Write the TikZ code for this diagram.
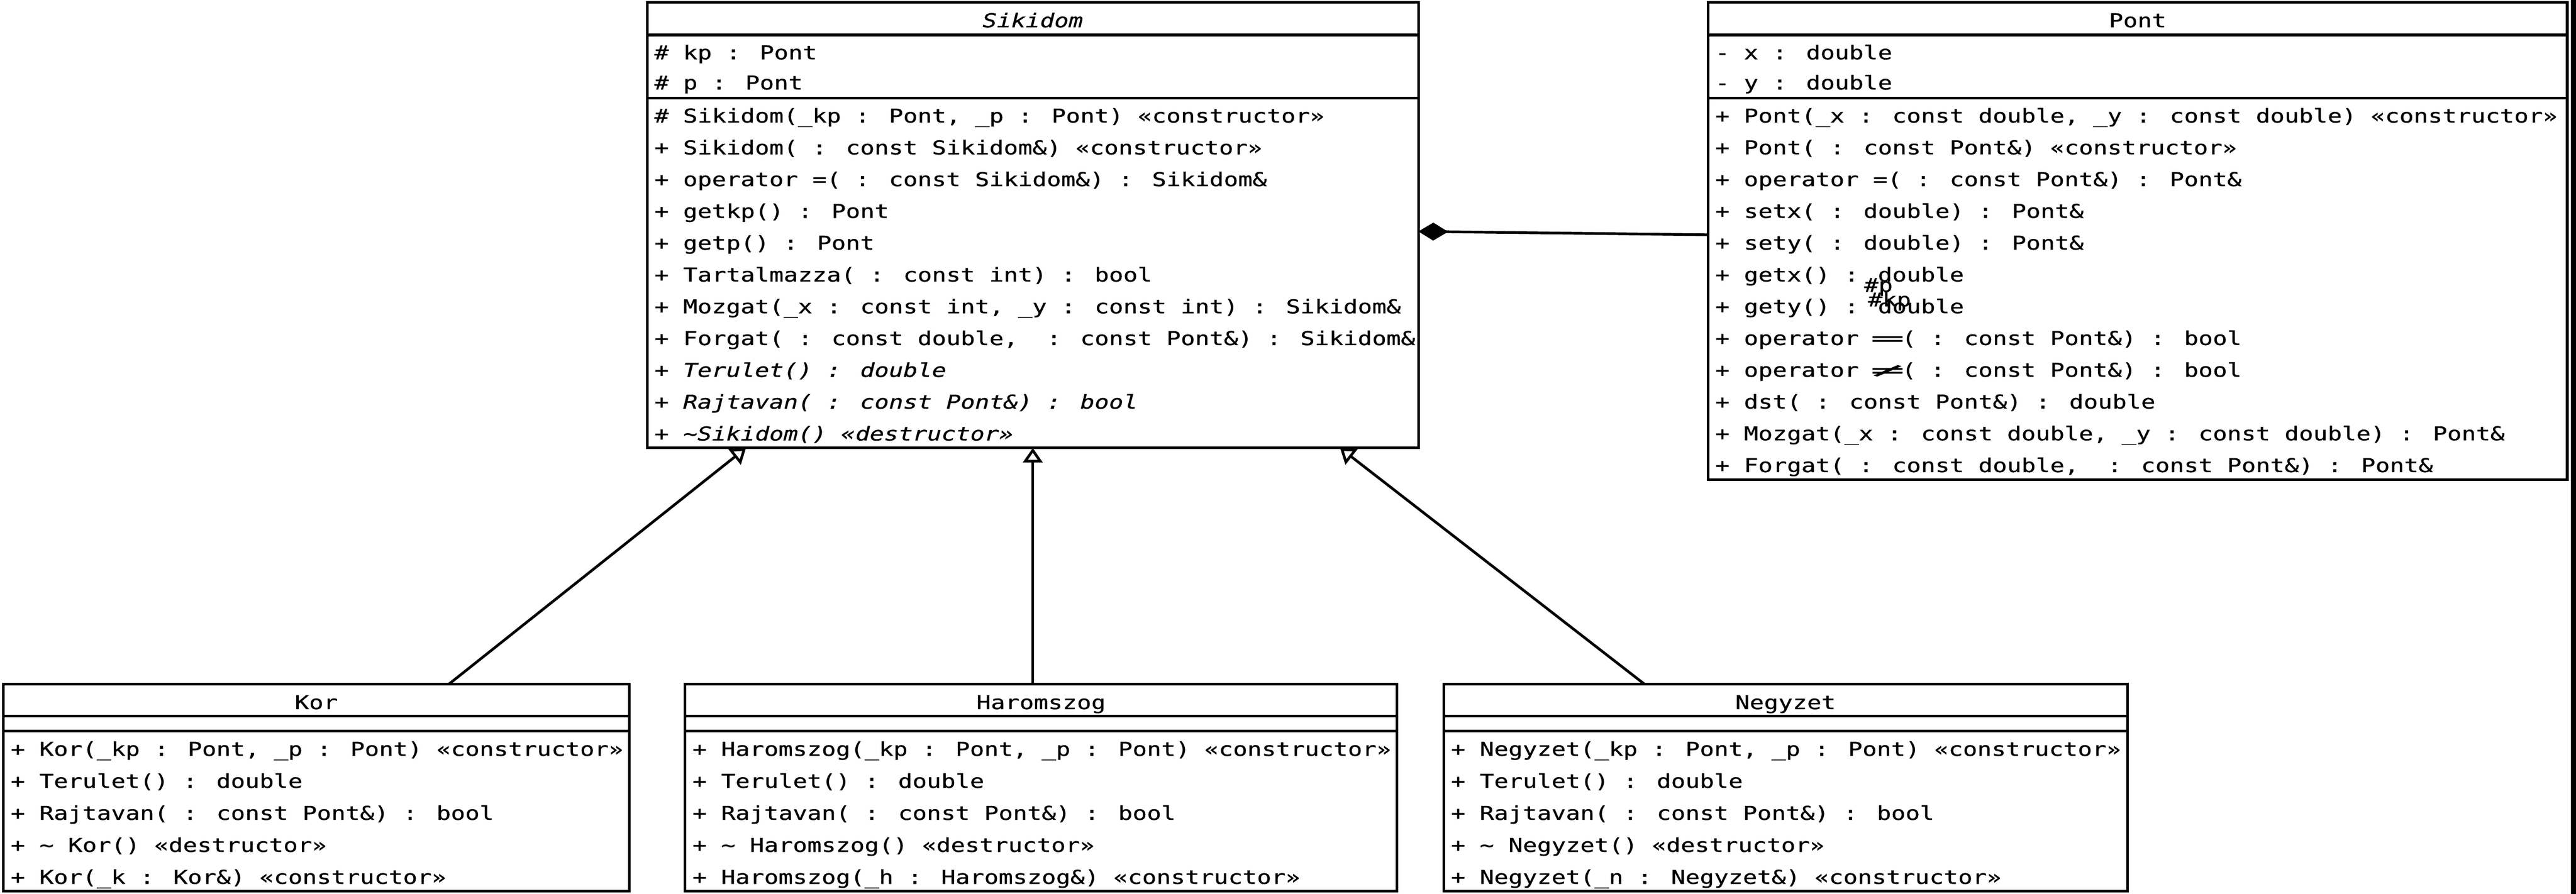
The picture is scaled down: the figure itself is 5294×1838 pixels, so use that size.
\documentclass[tikz,border=0pt]{standalone}
\usepackage{fontspec}
\usepackage{graphicx}
\usetikzlibrary{arrows.meta,calc}
\newfontfamily\umlfont[FakeStretch=1.25,FakeBold=0.8,ItalicFont={DejaVu Sans Mono Oblique}]{DejaVu Sans Mono}
\newcommand\wideeq{\sbox0{==}\makebox[\wd0]{\scalebox{2.4}[1]{=}}}
\newcommand\widene{\sbox0{==}\makebox[\wd0]{\scalebox{2.4}[1]{≠}}}
\tikzset{
  cls/.style={draw, line width=1.375pt, rectangle, inner sep=0pt, outer sep=0pt, anchor=north west},
  sepline/.style={line width=1.375pt},
  txt/.style={inner sep=0pt, outer sep=0pt, anchor=base west, font=\umlfont\fontsize{9.8}{11.8}\selectfont},
  ttl/.style={inner sep=0pt, outer sep=0pt, anchor=base, font=\umlfont\fontsize{9.8}{11.8}\selectfont},
  gen/.style={line width=1.375pt, -{Triangle[open, length=7.5pt, width=10pt]}},
  agg/.style={line width=1.375pt, -{Diamond[length=15.25pt, width=9.25pt]}},
}
\begin{document}
\begin{tikzpicture}[x=0.25pt,y=-0.25pt]
\useasboundingbox (0,0) rectangle (5294,1838);
% ---------- Sikidom ----------
\node[cls, minimum width=396.25pt, minimum height=229pt] (sik) at (1330,5) {};
\draw[sepline] (1330,72) -- (2915,72);
\draw[sepline] (1330,202) -- (2915,202);
\node[ttl, font=\umlfont\itshape\fontsize{9.8}{11.8}\selectfont] (sikname) at (2122.5,56) {Sikidom};
\node[txt] (sa1) at (1345,122) {\# kp : Pont};
\node[txt] (sa2) at (1345,184) {\# p : Pont};
\node[txt] (sm1) at (1345,252) {\# Sikidom(\_kp : Pont, \_p : Pont) «constructor»};
\node[txt] (sm2) at (1345,317.4) {+ Sikidom( : const Sikidom\&) «constructor»};
\node[txt] (sm3) at (1345,382.7) {+ operator =( : const Sikidom\&) : Sikidom\&};
\node[txt] (sm4) at (1345,448.1) {+ getkp() : Pont};
\node[txt] (sm5) at (1345,513.4) {+ getp() : Pont};
\node[txt] (sm6) at (1345,578.8) {+ Tartalmazza( : const int) : bool};
\node[txt] (sm7) at (1345,644.2) {+ Mozgat(\_x : const int, \_y : const int) : Sikidom\&};
\node[txt] (sm8) at (1345,709.5) {+ Forgat( : const double,\ \ : const Pont\&) : Sikidom\&};
\node[txt] (sm9) at (1345,774.9) {\itshape + Terulet() : double};
\node[txt] (sm10) at (1345,840.2) {\itshape + Rajtavan( : const Pont\&) : bool};
\node[txt] (sm11) at (1345,905.6) {\itshape + \textasciitilde Sikidom() «destructor»};
% ---------- Pont ----------
\node[cls, minimum width=441.5pt, minimum height=245.25pt] (pont) at (3510,5) {};
\draw[sepline] (3510,72) -- (5276,72);
\draw[sepline] (3510,202) -- (5276,202);
\node[ttl] (pontname) at (4393,56) {Pont};
\node[txt] (pa1) at (3525,122) {- x : double};
\node[txt] (pa2) at (3525,184) {- y : double};
\node[txt] (pm1) at (3525,252) {+ Pont(\_x : const double, \_y : const double) «constructor»};
\node[txt] (pm2) at (3525,317.3) {+ Pont( : const Pont\&) «constructor»};
\node[txt] (pm3) at (3525,382.7) {+ operator =( : const Pont\&) : Pont\&};
\node[txt] (pm4) at (3525,448) {+ setx( : double) : Pont\&};
\node[txt] (pm5) at (3525,513.3) {+ sety( : double) : Pont\&};
\node[txt] (pm6) at (3525,578.7) {+ getx() : double};
\node[txt] (pm7) at (3525,644) {+ gety() : double};
\node[txt] (pm8) at (3525,709.3) {+ operator \wideeq( : const Pont\&) : bool};
\node[txt] (pm9) at (3525,774.7) {+ operator \widene( : const Pont\&) : bool};
\node[txt] (pm10) at (3525,840) {+ dst( : const Pont\&) : double};
\node[txt] (pm11) at (3525,905.3) {+ Mozgat(\_x : const double, \_y : const double) : Pont\&};
\node[txt] (pm12) at (3525,970.7) {+ Forgat( : const double,\ \ : const Pont\&) : Pont\&};
% role labels
\node[txt] (rolep) at (3831,600) {\#p};
\node[txt] (rolekp) at (3839,630) {\#kp};
% ---------- Kor ----------
\node[cls, minimum width=321.5pt, minimum height=106.25pt] (kor) at (7,1407) {};
\draw[sepline] (7,1472) -- (1293,1472);
\draw[sepline] (7,1503) -- (1293,1503);
\node[ttl] (korname) at (650,1458) {Kor};
\node[txt] (km1) at (22,1554) {+ Kor(\_kp : Pont, \_p : Pont) «constructor»};
\node[txt] (km2) at (22,1619.8) {+ Terulet() : double};
\node[txt] (km3) at (22,1685.6) {+ Rajtavan( : const Pont\&) : bool};
\node[txt] (km4) at (22,1751.4) {+ \textasciitilde{} Kor() «destructor»};
\node[txt] (km5) at (22,1817.2) {+ Kor(\_k : Kor\&) «constructor»};
% ---------- Haromszog ----------
\node[cls, minimum width=365.75pt, minimum height=106.25pt] (haro) at (1408,1407) {};
\draw[sepline] (1408,1472) -- (2871,1472);
\draw[sepline] (1408,1503) -- (2871,1503);
\node[ttl] (haroname) at (2139.5,1458) {Haromszog};
\node[txt] (hm1) at (1423,1554) {+ Haromszog(\_kp : Pont, \_p : Pont) «constructor»};
\node[txt] (hm2) at (1423,1619.8) {+ Terulet() : double};
\node[txt] (hm3) at (1423,1685.6) {+ Rajtavan( : const Pont\&) : bool};
\node[txt] (hm4) at (1423,1751.4) {+ \textasciitilde{} Haromszog() «destructor»};
\node[txt] (hm5) at (1423,1817.2) {+ Haromszog(\_h : Haromszog\&) «constructor»};
% ---------- Negyzet ----------
\node[cls, minimum width=351.25pt, minimum height=106.25pt] (neg) at (2967,1407) {};
\draw[sepline] (2967,1472) -- (4372,1472);
\draw[sepline] (2967,1503) -- (4372,1503);
\node[ttl] (negname) at (3669.5,1458) {Negyzet};
\node[txt] (nm1) at (2982,1554) {+ Negyzet(\_kp : Pont, \_p : Pont) «constructor»};
\node[txt] (nm2) at (2982,1619.8) {+ Terulet() : double};
\node[txt] (nm3) at (2982,1685.6) {+ Rajtavan( : const Pont\&) : bool};
\node[txt] (nm4) at (2982,1751.4) {+ \textasciitilde{} Negyzet() «destructor»};
\node[txt] (nm5) at (2982,1817.2) {+ Negyzet(\_n : Negyzet\&) «constructor»};
% ---------- connectors ----------
\draw[gen] ($(kor.north west)!0.7115!(kor.north east)$) -- ($(sik.south west)!0.1281!(sik.south east)$);
\draw[gen] (sik.south |- haro.north) -- (sik.south);
\draw[gen] ($(neg.north west)!0.294!(neg.north east)$) -- ($(sik.south west)!0.8984!(sik.south east)$);
\draw[agg] ($(pont.north west)!0.487!(pont.south west)$) -- ($(sik.north east)!0.514!(sik.south east)$);
% right edge bar
\fill (5283,0) rectangle (5294,1838);
\end{tikzpicture}
\end{document}
